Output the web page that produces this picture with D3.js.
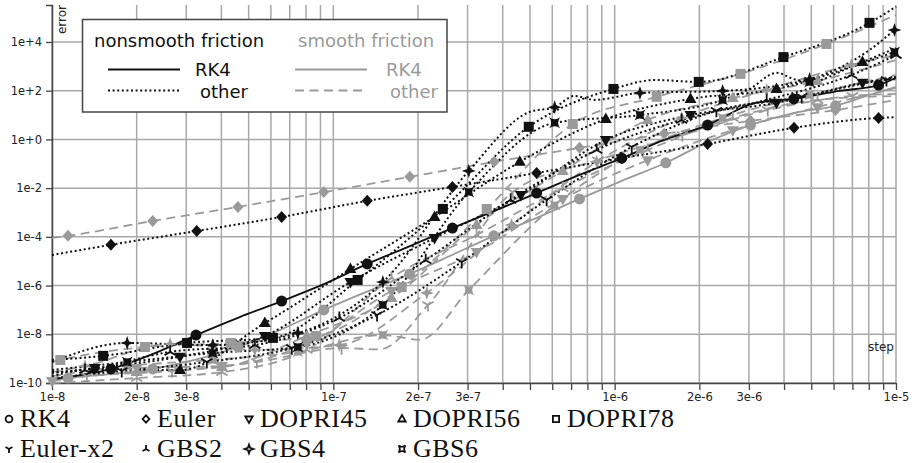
<!DOCTYPE html>
<html>
<head>
<meta charset="utf-8">
<script src="https://cdn.jsdelivr.net/npm/d3@7"></script>
<style>
  body { margin: 0; background: #fff; }
  svg { display: block; }
</style>
</head>
<body>
<svg id="chart" width="921" height="463"></svg>
<script>
// ---- data: [step, error, markerShown] ----
const rk4Nonsmooth = [
  [1e-8,1.45e-10,0],[1.62e-8,3.8e-10,1],[2.23e-8,1.4e-9,0],[3.25e-8,9.3e-9,1],[4.65e-8,5.1e-8,0],
  [6.55e-8,2.3e-7,1],[9.3e-8,1.17e-6,0],[1.32e-7,7.7e-6,1],[1.87e-7,4.2e-5,0],[2.65e-7,2.3e-4,1],
  [3.74e-7,1.16e-3,0],[5.28e-7,6.3e-3,1],[7.5e-7,3.5e-2,0],[1.06e-6,0.17,1],[1.5e-6,0.95,0],
  [2.14e-6,3.9,1],[3.15e-6,31,0],[4.33e-6,46,1],[6.3e-6,98,0],[8.67e-6,170,1],[1e-5,340,0]
];
const rk4Smooth = [
  [1e-8,1.2e-10,0],[1.14e-8,1.6e-10,1],[1.61e-8,2.3e-10,0],[2.28e-8,3.8e-10,1],[3.22e-8,8.8e-10,0],
  [4.58e-8,3.0e-9,1],[6.46e-8,1.5e-8,0],[9.25e-8,1.0e-7,1],[1.31e-7,5.5e-7,0],[1.87e-7,3.0e-6,1],
  [2.64e-7,1.8e-5,0],[3.72e-7,1.1e-4,1],[5.28e-7,6.0e-4,0],[7.5e-7,3.6e-3,1],[1.06e-6,2.0e-2,0],
  [1.52e-6,0.11,1],[2.14e-6,0.79,0],[3.04e-6,3.9,1],[4.36e-6,12.3,0],[6.1e-6,24,1],[8.05e-6,67,0],[1e-5,144,0]
];
const eulerNonsmooth = [
  [1e-8,1.8e-5,0],[1.62e-8,4.7e-5,1],[3.27e-8,1.74e-4,1],[6.55e-8,6.6e-4,1],[1.32e-7,3.0e-3,1],
  [2.65e-7,1.12e-2,1],[5.28e-7,4.2e-2,1],[1.06e-6,0.17,1],[2.14e-6,0.65,1],[4.34e-6,3.0,1],
  [8.67e-6,7.6,1],[1e-5,8.1,0]
];
const eulerSmooth = [
  [1e-8,9.0e-5,0],[1.14e-8,1.1e-4,1],[2.28e-8,4.5e-4,1],[4.58e-8,1.7e-3,1],[9.25e-8,6.9e-3,1],
  [1.87e-7,2.9e-2,1],[3.73e-7,0.12,1],[7.5e-7,0.45,1],[1.5e-6,1.7,1],[3.04e-6,5.8,1],
  [6.1e-6,16,1],[1e-5,42,0]
];
const dopri45Nonsmooth = [
  [1e-8,2.6e-10,0],[1.42e-8,4.1e-10,1],[2.85e-8,1.2e-9,1],[5.71e-8,8.5e-9,1],[1.15e-7,1.4e-6,1],
  [2.29e-7,9.0e-5,1],[4.64e-7,5.2e-3,1],[9.3e-7,0.95,1],[1.86e-6,10,1],[3.76e-6,32,1],
  [7.6e-6,210,1],[1e-5,370,0]
];
const dopri45Smooth = [
  [1e-8,1.2e-10,1],[2.0e-8,4.1e-10,1],[4.02e-8,5.0e-10,1],[8.05e-8,4.0e-9,1],[1.61e-7,6.0e-7,1],
  [3.23e-7,2.4e-5,1],[6.54e-7,3.6e-3,1],[1.31e-6,0.14,1],[2.63e-6,2.4,1],[5.26e-6,21,1],[1e-5,130,0]
];
const dopri56Nonsmooth = [
  [1e-8,1.9e-10,0],[1.41e-8,3.8e-10,1],[2.85e-8,3.4e-10,1],[5.71e-8,2.9e-8,1],[1.15e-7,4.8e-6,1],
  [2.29e-7,6.6e-4,1],[4.6e-7,0.12,1],[9.3e-7,6.9,1],[1.86e-6,46,1],[3.76e-6,118,1],
  [7.6e-6,1.5e3,1],[1e-5,5.7e3,0]
];
const dopri56Smooth = [
  [1e-8,1.45e-10,0],[2.0e-8,2.8e-10,1],[4.02e-8,4.5e-10,1],[8.05e-8,8.5e-9,1],[1.61e-7,3.1e-7,1],
  [3.23e-7,3.1e-4,1],[6.54e-7,0.051,1],[1.31e-6,6.3,1],[2.63e-6,50,1],[5.26e-6,250,1],[1e-5,1.8e3,0]
];
const dopri78Nonsmooth = [
  [1e-8,8.8e-10,0],[1.52e-8,1.3e-9,1],[3.02e-8,4.4e-9,1],[6.1e-8,7.1e-9,1],[1.22e-7,1.7e-6,1],
  [2.45e-7,1.4e-3,1],[4.95e-7,3.3,1],[9.9e-7,118,1],[1.39e-6,275,0],[1.99e-6,230,1],
  [3.98e-6,2.4e3,1],[8.05e-6,6.1e4,1],[1e-5,2.8e5,0]
];
const dopri78Smooth = [
  [1e-8,7.3e-10,0],[1.07e-8,8.8e-10,1],[2.14e-8,3.0e-9,1],[4.32e-8,4.4e-9,1],[8.67e-8,8.5e-9,1],
  [1.75e-7,8.7e-7,1],[3.51e-7,1.4e-3,1],[7.1e-7,4.3,1],[1.41e-6,56,1],[2.8e-6,490,1],
  [5.66e-6,8.3e3,1],[1e-5,1.3e5,0]
];
const eulerX2Nonsmooth = [
  [1e-8,1.6e-10,0],[1.77e-8,3.1e-10,1],[3.55e-8,7.3e-10,1],[7.12e-8,2.7e-9,1],[1.43e-7,6.2e-8,1],
  [2.86e-7,9.3e-6,1],[5.73e-7,3.3e-3,1],[1.15e-6,0.49,1],[2.3e-6,15,1],[4.62e-6,56,1],
  [9.25e-6,275,1],[1e-5,300,0]
];
const eulerX2Smooth = [
  [1e-8,1.3e-10,0],[1.33e-8,1.9e-10,1],[2.67e-8,3.1e-10,1],[5.35e-8,7.3e-10,1],[1.07e-7,2.7e-9,1],
  [1.46e-7,2.4e-9,0],[2.17e-7,1.6e-7,1],[4.34e-7,6.9e-3,1],[8.7e-7,0.14,1],[1.74e-6,1.5,1],
  [3.5e-6,16,1],[7.0e-6,61,1],[1e-5,74,0]
];
const gbs2Nonsmooth = [
  [1e-8,2.8e-10,0],[1.31e-8,3.4e-10,1],[2.63e-8,1.9e-9,1],[5.26e-8,3.6e-9,1],[1.05e-7,4.7e-8,1],
  [2.13e-7,1.1e-5,1],[4.27e-7,3.3e-3,1],[8.63e-7,0.37,1],[1.73e-6,6.3,1],[3.47e-6,42,1],
  [6.95e-6,445,1],[1e-5,2.9e3,1]
];
const gbs2Smooth = [
  [1e-8,1.0e-10,0],[2.0e-8,1.6e-10,1],[4.02e-8,2.8e-10,1],[8.05e-8,2.3e-9,1],[1.61e-7,2.05e-6,1],
  [3.23e-7,1.2e-4,1],[6.54e-7,0.010,1],[1.31e-6,0.37,1],[2.63e-6,7.6,1],[5.26e-6,42,1],[1e-5,61,0]
];
const gbs4Nonsmooth = [
  [1e-8,7.3e-10,0],[1.85e-8,4.4e-9,1],[3.73e-8,3.6e-9,1],[7.48e-8,1.13e-8,1],[1.5e-7,1.4e-6,1],
  [3.03e-7,0.051,1],[4.99e-7,13.5,0],[6.12e-7,21,1],[7.21e-7,61,0],[8.49e-7,42,0],[1.23e-6,81,1],
  [2.42e-6,98,1],[4.93e-6,300,1],[8.05e-6,4.7e3,0],[9.88e-6,3.1e4,1]
];
const gbs4Smooth = [
  [1e-8,2.8e-10,0],[1.31e-8,5.0e-10,1],[2.63e-8,4.0e-9,1],[5.26e-8,2.3e-9,1],[1.05e-7,3.6e-9,1],
  [2.15e-7,5.0e-7,1],[4.3e-7,3.1e-4,1],[8.63e-7,0.12,1],[1.73e-6,7.6,1],[3.47e-6,107,1],
  [6.95e-6,1.15e3,1],[1e-5,2.9e3,0]
];
const gbs6Nonsmooth = [
  [1e-8,3.4e-10,0],[1.85e-8,7.3e-10,1],[3.73e-8,1.7e-9,1],[7.48e-8,3.0e-9,1],[1.5e-7,1.6e-7,1],
  [3.03e-7,6.9e-3,1],[6.12e-7,4.8,1],[1.23e-6,10,1],[2.42e-6,42,1],[3.02e-6,118,0],[3.76e-6,540,0],
  [4.43e-6,275,0],[4.93e-6,230,1],[6.84e-6,870,0],[9.88e-6,3.9e3,1]
];
const gbs6Smooth = [
  [1e-8,1.9e-10,0],[1.85e-8,5.0e-10,1],[3.73e-8,8.8e-10,1],[7.48e-8,1.9e-9,1],[1.5e-7,9.3e-9,1],
  [2.03e-7,6.0e-9,0],[3.03e-7,6.6e-7,1],[6.12e-7,2.0e-3,1],[1.23e-6,0.37,1],[2.42e-6,7.6,1],
  [4.93e-6,67,1],[1e-5,445,0]
];

const methodNames = ["RK4", "Euler", "DOPRI45", "DOPRI56", "DOPRI78", "Euler-x2", "GBS2", "GBS4", "GBS6"];
const frictionNames = ["nonsmooth friction", "smooth friction"];
const referenceLabel = "RK4";
const otherLabel = "other";

const xLabelValues = [1e-8, 2e-8, 3e-8, 1e-7, 2e-7, 3e-7, 1e-6, 2e-6, 3e-6, 1e-5];
const xLabelText = ["1e-8", "2e-8", "3e-8", "1e-7", "2e-7", "3e-7", "1e-6", "2e-6", "3e-6", "1e-5"];
const yTickValues = [1e-10, 1e-8, 1e-6, 1e-4, 1e-2, 1, 1e2, 1e4];
const yTickText = ["1e-10", "1e-8", "1e-6", "1e-4", "1e-2", "1e+0", "1e+2", "1e+4"];

const seriesList = [
  { method: "RK4", smooth: true, points: rk4Smooth },
  { method: "Euler", smooth: true, points: eulerSmooth },
  { method: "DOPRI45", smooth: true, points: dopri45Smooth },
  { method: "DOPRI56", smooth: true, points: dopri56Smooth },
  { method: "DOPRI78", smooth: true, points: dopri78Smooth },
  { method: "Euler-x2", smooth: true, points: eulerX2Smooth },
  { method: "GBS2", smooth: true, points: gbs2Smooth },
  { method: "GBS4", smooth: true, points: gbs4Smooth },
  { method: "GBS6", smooth: true, points: gbs6Smooth },
  { method: "Euler", smooth: false, points: eulerNonsmooth },
  { method: "DOPRI45", smooth: false, points: dopri45Nonsmooth },
  { method: "DOPRI56", smooth: false, points: dopri56Nonsmooth },
  { method: "DOPRI78", smooth: false, points: dopri78Nonsmooth },
  { method: "Euler-x2", smooth: false, points: eulerX2Nonsmooth },
  { method: "GBS2", smooth: false, points: gbs2Nonsmooth },
  { method: "GBS4", smooth: false, points: gbs4Nonsmooth },
  { method: "GBS6", smooth: false, points: gbs6Nonsmooth },
  { method: "RK4", smooth: false, points: rk4Nonsmooth }
];

// ---- layout ----
const BLACK = "#111";
const GRAY = "#9a9a9a";
const GRID = "#a9a9a9";
const AXIS = "#444";
const plotLeft = 52, plotRight = 896, plotTop = 5, plotBottom = 383;

const svg = d3.select("#chart");
const x = d3.scaleLog().domain([1e-8, 1e-5]).range([plotLeft, plotRight]);
const y = d3.scaleLog().domain([1e-10, 3.3e5]).range([plotBottom, plotTop]);

const nearIdx = (arr, v) => arr.findIndex(t => Math.abs(t - v) / t < 1e-6);

// grid
const gGrid = svg.append("g").attr("stroke", GRID).attr("stroke-width", 1.5);
gGrid.selectAll("line.v").data(x.ticks()).join("line")
  .attr("x1", d => x(d)).attr("x2", d => x(d)).attr("y1", plotTop).attr("y2", plotBottom);
gGrid.selectAll("line.h").data(yTickValues).join("line")
  .attr("x1", plotLeft).attr("x2", plotRight).attr("y1", d => y(d)).attr("y2", d => y(d));

// axes
const xAxis = d3.axisBottom(x).tickValues(x.ticks()).tickSize(7).tickSizeOuter(0).tickPadding(3)
  .tickFormat(v => { const i = nearIdx(xLabelValues, v); return i < 0 ? "" : xLabelText[i]; });
const yAxis = d3.axisLeft(y).tickValues(yTickValues).tickSize(6).tickSizeOuter(6).tickPadding(4)
  .tickFormat(v => yTickText[nearIdx(yTickValues, v)]);

function styleAxis(g) {
  g.select(".domain").attr("stroke", AXIS).attr("stroke-width", 1.5);
  g.selectAll(".tick line").attr("stroke", AXIS).attr("stroke-width", 1.3);
  g.selectAll(".tick text").attr("fill", "#222").style("font-family", "DejaVu Sans").style("font-size", "11.5px");
}
svg.append("g").attr("transform", `translate(0,${plotBottom})`).call(xAxis).call(styleAxis);
svg.append("g").attr("transform", `translate(${plotLeft},0)`).call(yAxis).call(styleAxis);

svg.append("text").attr("transform", `translate(66,${plotTop}) rotate(-90)`)
  .attr("text-anchor", "end").attr("fill", "#222")
  .style("font-family", "DejaVu Sans").style("font-size", "12px").text("error");
svg.append("text").attr("x", plotRight - 2).attr("y", 351).attr("text-anchor", "end").attr("fill", "#222")
  .style("font-family", "DejaVu Sans").style("font-size", "12px").text("step");

// ---- marker shapes ----
const circlePath = r => `M${r},0A${r},${r} 0 1,1 ${-r},0A${r},${r} 0 1,1 ${r},0Z`;
const shapes = {
  "RK4":      s => ({ d: circlePath(5.5 * s), lines: false }),
  "Euler":    s => ({ d: `M0,${-6*s}L${5.5*s},0L0,${6*s}L${-5.5*s},0Z`, lines: false }),
  "DOPRI45":  s => ({ d: `M${-6*s},${-4*s}L${6*s},${-4*s}L0,${6.5*s}Z`, lines: false }),
  "DOPRI56":  s => ({ d: `M${-6*s},${4*s}L${6*s},${4*s}L0,${-6.5*s}Z`, lines: false }),
  "DOPRI78":  s => ({ d: `M${-5*s},${-5*s}h${10*s}v${10*s}h${-10*s}Z`, lines: false }),
  "Euler-x2": s => ({ d: `M0,0L0,${6.5*s}M0,0L${-5.6*s},${-3.3*s}M0,0L${5.6*s},${-3.3*s}`, lines: true }),
  "GBS2":     s => ({ d: `M0,0L0,${-6.5*s}M0,0L${-5.6*s},${3.3*s}M0,0L${5.6*s},${3.3*s}`, lines: true }),
  "GBS4":     s => ({ d: `M0,${-7*s}L${1.8*s},${-1.8*s}L${7*s},0L${1.8*s},${1.8*s}L0,${7*s}L${-1.8*s},${1.8*s}L${-7*s},0L${-1.8*s},${-1.8*s}Z`, lines: false }),
  "GBS6":     s => ({ d: `M${-5.5*s},${-5.5*s}Q0,${-1.5*s} ${5.5*s},${-5.5*s}Q${1.5*s},0 ${5.5*s},${5.5*s}Q0,${1.5*s} ${-5.5*s},${5.5*s}Q${-1.5*s},0 ${-5.5*s},${-5.5*s}Z`, lines: false })
};

// ---- series ----
const line = d3.line().x(d => x(d[0])).y(d => y(d[1])).curve(d3.curveMonotoneX);
const gLines = svg.append("g").attr("fill", "none");
seriesList.forEach(sr => {
  const isRef = sr.method === "RK4";
  gLines.append("path").datum(sr.points)
    .attr("d", line)
    .attr("stroke", sr.smooth ? GRAY : BLACK)
    .attr("stroke-width", sr.smooth ? 1.8 : (isRef ? 1.9 : 2))
    .attr("stroke-dasharray", isRef ? null : (sr.smooth ? "9,5.5" : "2,2.6"));
});
const gMarks = svg.append("g");
seriesList.forEach(sr => {
  const col = sr.smooth ? GRAY : BLACK;
  const shp = shapes[sr.method](1);
  gMarks.selectAll(null).data(sr.points.filter(p => p[2])).join("path")
    .attr("transform", d => `translate(${x(d[0])},${y(d[1])})`)
    .attr("d", shp.d)
    .attr("fill", shp.lines ? "none" : col)
    .attr("stroke", shp.lines ? col : "none")
    .attr("stroke-width", 1.8);
});

// ---- style legend (box) ----
const gLeg = svg.append("g");
gLeg.append("rect").attr("x", 82.5).attr("y", 19.5).attr("width", 364.5).attr("height", 92.5)
  .attr("fill", "#fff").attr("stroke", AXIS).attr("stroke-width", 1.5);
const legFont = t => t.style("font-family", "DejaVu Sans").style("font-size", "18px");
gLeg.append("text").attr("x", 94).attr("y", 47).attr("fill", BLACK).call(legFont).text(frictionNames[0]);
gLeg.append("text").attr("x", 298).attr("y", 47).attr("fill", GRAY).call(legFont).text(frictionNames[1]);
[[108, 180, BLACK], [295, 367, GRAY]].forEach(([x1, x2, c], i) => {
  gLeg.append("line").attr("x1", x1).attr("x2", x2).attr("y1", 69.5).attr("y2", 69.5)
    .attr("stroke", c).attr("stroke-width", 1.9);
  gLeg.append("line").attr("x1", x1).attr("x2", x2).attr("y1", 90.5).attr("y2", 90.5)
    .attr("stroke", c).attr("stroke-width", i ? 1.8 : 2).attr("stroke-dasharray", i ? "9,5.5" : "2,2.6");
});
gLeg.append("text").attr("x", 195).attr("y", 76).attr("fill", BLACK).call(legFont).text(referenceLabel);
gLeg.append("text").attr("x", 200).attr("y", 98).attr("fill", BLACK).call(legFont).text(otherLabel);
gLeg.append("text").attr("x", 386).attr("y", 76).attr("fill", GRAY).call(legFont).text(referenceLabel);
gLeg.append("text").attr("x", 390).attr("y", 98).attr("fill", GRAY).call(legFont).text(otherLabel);

// ---- method legend (symbols) ----
const colX = [9, 146, 249, 402, 556];
const rowY = [419, 449];
const gKey = svg.append("g");
methodNames.forEach((m, i) => {
  const row = i < 5 ? 0 : 1;
  const col = i < 5 ? i : i - 5;
  const cx = colX[col], cy = rowY[row];
  const shp = shapes[m](0.62);
  gKey.append("path").attr("transform", `translate(${cx},${cy})`).attr("d", shp.d)
    .attr("fill", shp.lines ? "none" : "#fff").attr("stroke", BLACK).attr("stroke-width", 1.8);
  gKey.append("text").attr("x", cx + 11).attr("y", cy + 8).attr("fill", BLACK)
    .style("font-family", "Liberation Serif").style("font-size", "26px").style("letter-spacing", "0.5px").text(m);
});
</script>
</body>
</html>
